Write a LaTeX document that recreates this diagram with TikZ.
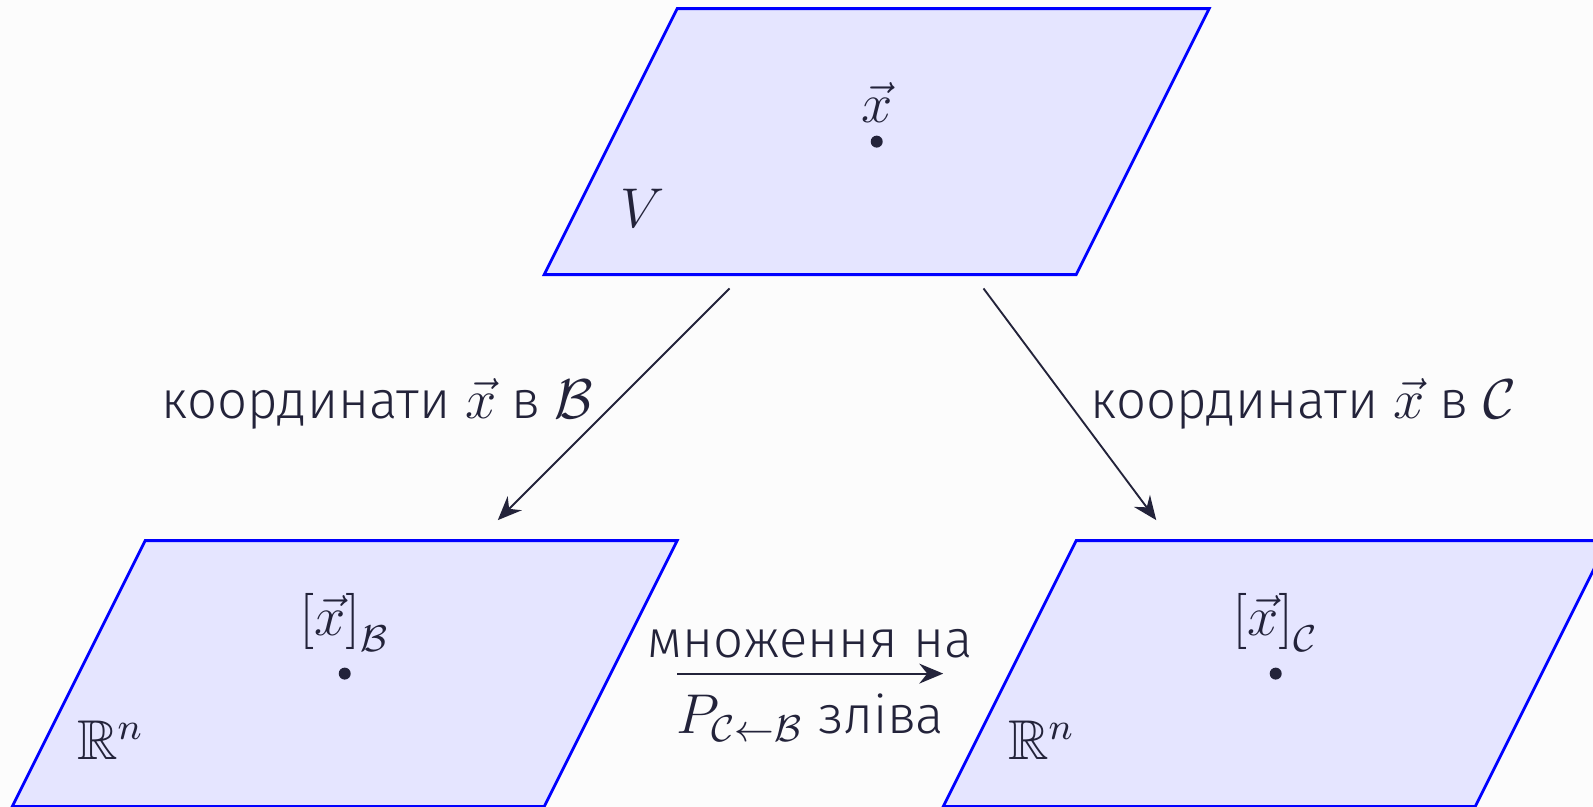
\documentclass[tikz,border=0pt]{standalone}
\usepackage{amsmath,amssymb}
\usepackage{fontspec}
\setmainfont{Fira Sans Light}[Scale=0.94]
\usepackage{tikz}
\usetikzlibrary{arrows.meta,calc,positioning}
\definecolor{ink}{HTML}{23233A}
\definecolor{rim}{HTML}{0000FF}
\definecolor{plane}{HTML}{E5E5FF}
\definecolor{paper}{HTML}{FCFCFC}

\begin{document}
\begin{tikzpicture}[
  sp/.style={draw=rim,semithick,fill=plane,line join=miter},
  pt/.style={circle,fill=ink,inner sep=0pt,minimum size=0.9mm},
  tag/.style={inner sep=1pt},
  map/.style={-{Stealth[length=1.8mm,width=1.5mm,inset=0.6mm]},ink,thin},
  font=\fontsize{12}{14.4}\selectfont, text=ink
]
\useasboundingbox (-0.092,0) rectangle (11.886,6.065);
\fill[paper] (-0.092,0) rectangle (11.886,6.065);
\clip (-0.092,0) rectangle (11.886,6.065);

% the three spaces
\foreach \x/\y/\lab in {4/4/V, 0/0/\mathbb{R}^n, 7/0/\mathbb{R}^n}{
  \draw[sp] (\x,\y) -- ++(4,0) -- ++(1,2) -- ++(-4,0) -- cycle;
  \node at ($(\x,\y)+(0.74,0.5)$) {$\lab$};
}

\node[pt] (xv) at (6.5,5) {};
\node[pt] (xb) at (2.5,1) {};
\node[pt] (xc) at (9.5,1) {};
\node[tag,above=1.5pt of xv] {$\vec{x}$};
\node[tag,above=2pt of xb] {$\left[\vec{x}\right]_{\mathcal{B}}$};
\node[tag,above=2pt of xc] {$\left[\vec{x}\right]_{\mathcal{C}}$};

\coordinate (vl) at (5.393,3.896);
\coordinate (vr) at (7.303,3.896);
\coordinate (bl) at (3.651,2.154);
\coordinate (cr) at (8.602,2.154);
\coordinate (mb) at (5.0,1.0);
\coordinate (mc) at (7.0,1.0);

\draw[map] (vl) -- (bl) node[midway,left=1pt] {координати $\vec{x}$ в $\mathcal{B}$};
\draw[map] (vr) -- (cr) node[midway,right=1pt] {координати $\vec{x}$ в $\mathcal{C}$};
\draw[map] (mb) -- (mc)
  node[midway,above] {множення на}
  node[midway,below=1pt] {$P_{\mathcal{C}\leftarrow\mathcal{B}}$ зліва};
\end{tikzpicture}
\end{document}
